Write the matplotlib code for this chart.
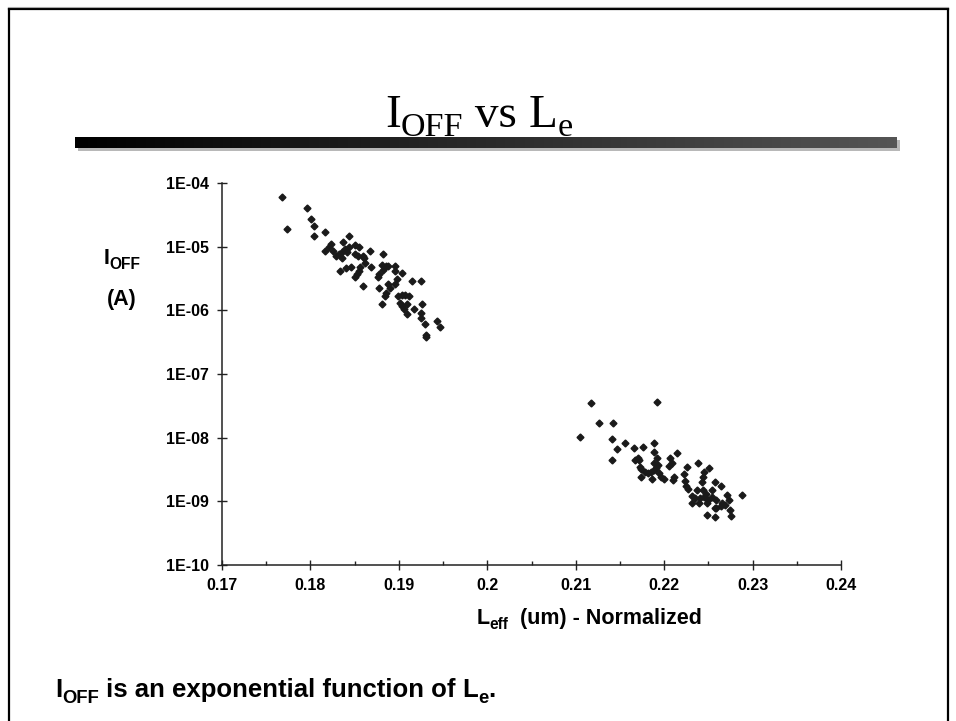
import numpy as np
import matplotlib
matplotlib.use('Agg')
import matplotlib.pyplot as plt
from matplotlib.colors import LinearSegmentedColormap
from matplotlib.lines import Line2D
from matplotlib.ticker import FixedLocator, MultipleLocator, FuncFormatter
from matplotlib.font_manager import FontProperties, findfont
from matplotlib.ft2font import FT2Font

# short channel group (Leff normalized, Ioff in A)
leff_short = [0.1768, 0.1774, 0.1796, 0.1801, 0.1804, 0.1804, 0.1816, 0.1844, 0.1837, 0.1816,
              0.1821, 0.1826, 0.1829, 0.1832, 0.1836, 0.1836, 0.1841, 0.1844, 0.1850, 0.1855,
              0.1850, 0.1854, 0.1860, 0.1867, 0.1882, 0.1862, 0.1856, 0.1868, 0.1881, 0.1885,
              0.1888, 0.1896, 0.1833, 0.1840, 0.1846, 0.1855, 0.1853, 0.1850, 0.1876, 0.1878,
              0.1882, 0.1896, 0.1904, 0.1859, 0.1877, 0.1888, 0.1896, 0.1898, 0.1915, 0.1925,
              0.1885, 0.1884, 0.1899, 0.1903, 0.1907, 0.1911, 0.1901, 0.1904, 0.1906, 0.1909,
              0.1881, 0.1917, 0.1926, 0.1909, 0.1925, 0.1925, 0.1929, 0.1943, 0.1947, 0.1931,
              0.1931, 0.1839, 0.1890, 0.1861, 0.1823]
ioff_short = [6.1e-5, 1.89e-5, 4.09e-5, 2.75e-5, 2.13e-5, 1.49e-5, 1.68e-5, 1.49e-5, 1.17e-5, 8.65e-6,
              9.77e-6, 8.65e-6, 7.14e-6, 7.67e-6, 6.56e-6, 8.34e-6, 8.34e-6, 1.0e-5, 1.06e-5, 1.0e-5,
              7.67e-6, 7.14e-6, 7.14e-6, 8.55e-6, 7.67e-6, 5.6e-6, 4.74e-6, 4.84e-6, 5.15e-6, 4.97e-6,
              4.97e-6, 4.97e-6, 4.2e-6, 4.57e-6, 4.74e-6, 4.2e-6, 3.72e-6, 3.37e-6, 3.3e-6, 3.72e-6,
              4.31e-6, 4.2e-6, 3.9e-6, 2.41e-6, 2.22e-6, 2.59e-6, 2.59e-6, 3.07e-6, 2.92e-6, 2.92e-6,
              1.89e-6, 1.68e-6, 1.68e-6, 1.74e-6, 1.74e-6, 1.68e-6, 1.29e-6, 1.17e-6, 1.04e-6, 1.26e-6,
              1.26e-6, 1.04e-6, 1.26e-6, 8.76e-7, 9.18e-7, 7.5e-7, 6.1e-7, 6.87e-7, 5.42e-7, 4.1e-7,
              3.86e-7, 9.18e-6, 2.24e-6, 6.64e-6, 1.1e-5]

# long channel group
leff_long = [0.2117, 0.2192, 0.2126, 0.2142, 0.2105, 0.2141, 0.2156, 0.2147, 0.2166, 0.2176,
             0.2188, 0.2189, 0.2141, 0.2215, 0.2167, 0.2170, 0.2172, 0.2192, 0.2188, 0.2193,
             0.2207, 0.2209, 0.2206, 0.2173, 0.2174, 0.2178, 0.2182, 0.2185, 0.2189, 0.2191,
             0.2194, 0.2197, 0.2200, 0.2186, 0.2174, 0.2226, 0.2238, 0.2245, 0.2251, 0.2222,
             0.2211, 0.2210, 0.2244, 0.2243, 0.2224, 0.2225, 0.2227, 0.2257, 0.2264, 0.2237,
             0.2244, 0.2254, 0.2247, 0.2232, 0.2235, 0.2240, 0.2245, 0.2250, 0.2254, 0.2259,
             0.2271, 0.2273, 0.2288, 0.2231, 0.2239, 0.2248, 0.2265, 0.2269, 0.2264, 0.2259,
             0.2274, 0.2257, 0.2248, 0.2257, 0.2276]
ioff_long = [3.47e-8, 3.67e-8, 1.68e-8, 1.68e-8, 1.04e-8, 9.44e-9, 8.17e-9, 6.56e-9, 6.97e-9, 7.21e-9,
             8.17e-9, 6.03e-9, 4.46e-9, 5.69e-9, 4.46e-9, 4.74e-9, 4.46e-9, 4.74e-9, 3.96e-9, 3.72e-9,
             4.74e-9, 4.05e-9, 3.59e-9, 3.5e-9, 3.18e-9, 2.92e-9, 2.75e-9, 2.92e-9, 3.1e-9, 3.3e-9,
             2.75e-9, 2.39e-9, 2.22e-9, 2.22e-9, 2.39e-9, 3.5e-9, 4.05e-9, 2.92e-9, 3.3e-9, 2.69e-9,
             2.39e-9, 2.16e-9, 2.39e-9, 2.04e-9, 2.11e-9, 1.74e-9, 1.55e-9, 2.04e-9, 1.74e-9, 1.51e-9,
             1.48e-9, 1.51e-9, 1.3e-9, 1.21e-9, 1.12e-9, 1.12e-9, 1.16e-9, 1.05e-9, 1.17e-9, 1.05e-9,
             1.26e-9, 1.05e-9, 1.26e-9, 9.31e-10, 9.3e-10, 9.3e-10, 9.3e-10, 8.77e-10, 8.45e-10, 7.78e-10,
             7.31e-10, 7.78e-10, 6.11e-10, 5.74e-10, 5.89e-10]

y_decades = [-10, -9, -8, -7, -6, -5, -4]
x_ticks = [0.17, 0.18, 0.19, 0.2, 0.21, 0.22, 0.23, 0.24]

plt.rcParams['font.family'] = ['Liberation Sans', 'DejaVu Sans']
plt.rcParams['font.weight'] = 'bold'

W, H = 956, 721
DPI = 100
fig = plt.figure(figsize=(W / DPI, H / DPI), dpi=DPI)
fig.patch.set_facecolor('white')


def advance(s, family, weight, size):
    # pen advance of a string in pixels
    f = FT2Font(findfont(FontProperties(family=family, weight=weight)))
    f.set_size(size, DPI)
    return sum(f.load_char(ord(c)).linearHoriAdvance for c in s) / 65536.0


def rich_text(x, y, parts, size, family='Liberation Sans', weight='bold', ha='left',
              sub_scale=0.72, drop=0.22):
    # x, y in pixels from top-left; y is the baseline. parts: (text, is_subscript)
    pieces = []
    total = 0.0
    for s, sub in parts:
        fs = size * sub_scale if sub else size
        pieces.append((s, fs, sub, total))
        total += advance(s, family, weight, fs)
    if ha == 'center':
        x = x - total / 2.0
    for s, fs, sub, off in pieces:
        dy = drop * size * DPI / 72.0 if sub else 0.0
        fig.text((x + off) / W, 1 - (y + dy) / H, s, fontsize=fs, family=family,
                 weight=weight, ha='left', va='baseline')


# slide frame
fig.add_artist(Line2D([8.5 / W, 8.5 / W], [0, 1 - 9 / H], color='black', lw=1.6))
fig.add_artist(Line2D([8.5 / W, 947.5 / W], [1 - 9 / H, 1 - 9 / H], color='black', lw=1.6))
fig.add_artist(Line2D([947.5 / W, 947.5 / W], [0, 1 - 9 / H], color='black', lw=1.6))
fig.add_artist(Line2D([8 / W, 948 / W], [1 - 7 / H, 1 - 7 / H], color='#aaaaaa', lw=0.8))

# title
rich_text(479, 127, [('I', 0), ('OFF', 1), (' vs ', 0), ('L', 0), ('e', 1)], 34,
          family='Liberation Serif', weight='normal', ha='center', drop=0.2)

# gradient bar with a light shadow behind it
shadow_ax = fig.add_axes([78 / W, 1 - 151 / H, 822 / W, 11 / H])
shadow_ax.set_facecolor('#b8b8b8')
shadow_ax.set_xticks([])
shadow_ax.set_yticks([])
for s in shadow_ax.spines.values():
    s.set_visible(False)
bar_ax = fig.add_axes([75 / W, 1 - 148 / H, 822 / W, 11 / H])
grad = np.linspace(0, 1, 256).reshape(1, -1)
cmap = LinearSegmentedColormap.from_list('bar', ['#000000', '#2a2a2a', '#555555'])
bar_ax.imshow(grad, aspect='auto', cmap=cmap, extent=(0, 1, 0, 1))
bar_ax.set_xlim(0, 1)
bar_ax.set_ylim(0, 1)
bar_ax.axis('off')

# main scatter
ax = fig.add_axes([222 / W, 1 - 565 / H, 619 / W, 382 / H])
ax.plot(leff_short, ioff_short, linestyle='none', marker='D', ms=3.5,
        color='#1a1a1a', mec='#1a1a1a')
ax.plot(leff_long, ioff_long, linestyle='none', marker='D', ms=3.5,
        color='#1a1a1a', mec='#1a1a1a')
ax.set_yscale('log')
ax.set_ylim(1e-10, 1e-4)
ax.set_xlim(0.17, 0.24)
ax.yaxis.set_major_locator(FixedLocator([10.0 ** d for d in y_decades]))
ax.yaxis.set_minor_locator(FixedLocator([]))
ax.yaxis.set_major_formatter(FuncFormatter(lambda v, p: '1E-%02d' % round(-np.log10(v))))
ax.xaxis.set_major_locator(FixedLocator(x_ticks))
ax.xaxis.set_minor_locator(MultipleLocator(0.005))
ax.xaxis.set_major_formatter(FuncFormatter(lambda v, p: '%g' % round(v, 2)))
for s in ['top', 'right']:
    ax.spines[s].set_visible(False)
for s in ['left', 'bottom']:
    ax.spines[s].set_linewidth(1.1)
    ax.spines[s].set_color('#222222')
ax.tick_params(which='major', direction='inout', length=7, width=1, labelsize=11.5, color='#222222')
ax.tick_params(which='minor', direction='in', length=3, width=1, color='#222222')
ax.tick_params(axis='y', pad=6)
ax.tick_params(axis='x', pad=6)
for lab in ax.get_xticklabels() + ax.get_yticklabels():
    lab.set_fontweight('bold')

# axis labels
rich_text(122, 264, [('I', 0), ('OFF', 1)], 15.5, ha='center')
fig.text(122 / W, 1 - 305 / H, '(A)', fontsize=15.5, weight='bold', ha='center', va='baseline')
rich_text(589, 624, [('L', 0), ('eff', 1), ('  (um) - Normalized', 0)], 15.5, ha='center')

# bottom statement
rich_text(55, 697, [('I', 0), ('OFF', 1), (' is an exponential function of ', 0), ('L', 0),
                    ('e', 1), ('.', 0)], 18.5)

fig.savefig('out.png', dpi=DPI, facecolor='white')
